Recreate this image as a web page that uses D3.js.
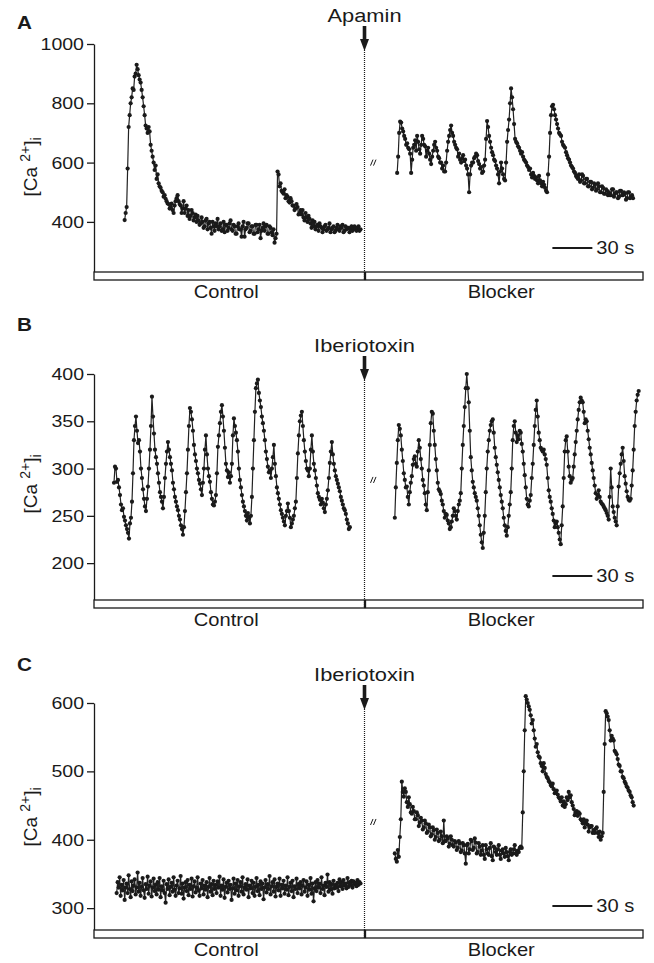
<!DOCTYPE html>
<html>
<head>
<meta charset="utf-8">
<script src="https://cdn.jsdelivr.net/npm/d3@7"></script>
<style>
body { margin: 0; background: #fff; }
svg { display: block; }
text { font-family: "Liberation Sans", Arial, Helvetica, sans-serif; fill: #1a1a1a; }
</style>
</head>
<body>
<script>
// [Ca2+]i traces (nM), one sample every 0.75 s
const aControl = [406, 430, 450, 580, 720, 760, 800, 820, 850, 845,
  890, 900, 930, 915, 895, 880, 870, 845, 820, 790,
  760, 725, 715, 700, 720, 705, 660, 640, 620, 600,
  575, 590, 545, 560, 530, 520, 515, 505, 500, 485,
  490, 478, 470, 462, 460, 445, 450, 462, 440, 430,
  455, 470, 480, 490, 470, 460, 455, 430, 445, 470,
  430, 445, 455, 420, 440, 410, 420, 440, 430, 405,
  415, 425, 400, 420, 405, 390, 395, 415, 400, 380,
  385, 405, 410, 375, 395, 400, 380, 360, 400, 385,
  370, 395, 385, 410, 375, 385, 395, 370, 375, 400,
  365, 390, 390, 370, 380, 395, 405, 375, 370, 390,
  385, 360, 360, 385, 395, 375, 375, 350, 385, 400,
  350, 375, 380, 395, 395, 365, 370, 385, 385, 360,
  360, 390, 390, 365, 375, 390, 345, 370, 380, 395,
  370, 385, 390, 360, 360, 385, 380, 365, 355, 375,
  330, 345, 360, 570, 560, 520, 530, 505, 500, 495,
  510, 480, 490, 485, 470, 465, 480, 470, 455, 455,
  440, 445, 460, 450, 425, 430, 440, 425, 440, 415,
  405, 430, 415, 400, 420, 410, 395, 380, 405, 385,
  400, 375, 385, 390, 370, 395, 385, 380, 365, 375,
  385, 390, 370, 375, 380, 395, 365, 375, 380, 385,
  365, 370, 380, 390, 375, 370, 385, 380, 390, 365,
  370, 385, 375, 380, 380, 365, 375, 385, 370, 380,
  385, 375, 370, 380, 385, 370, 375];
const aBlocker = [565, 620, 700, 738, 735, 715, 705, 690, 680, 660,
  665, 650, 645, 630, 565, 610, 650, 660, 675, 640,
  690, 670, 645, 630, 660, 690, 680, 660, 655, 620,
  640, 650, 630, 610, 595, 620, 640, 660, 670, 650,
  640, 620, 615, 600, 600, 580, 590, 570, 570, 600,
  640, 670, 690, 710, 725, 700, 690, 670, 660, 650,
  645, 620, 630, 610, 600, 615, 625, 605, 610, 590,
  580, 560, 500, 560, 590, 600, 600, 615, 620, 630,
  625, 605, 595, 580, 585, 565, 570, 590, 610, 680,
  740, 720, 690, 670, 650, 635, 625, 610, 605, 590,
  580, 560, 530, 570, 600, 580, 560, 545, 540, 600,
  670, 710, 745, 800, 850, 820, 780, 730, 680, 670,
  665, 655, 650, 640, 630, 635, 620, 610, 605, 600,
  590, 585, 575, 580, 560, 550, 565, 555, 545, 550,
  540, 530, 555, 540, 530, 520, 535, 525, 515, 505,
  500, 560, 620, 700, 760, 790, 795, 780, 760, 745,
  730, 715, 700, 695, 690, 670, 660, 655, 650, 635,
  625, 615, 610, 600, 590, 585, 580, 570, 565, 555,
  550, 545, 560, 535, 540, 560, 555, 530, 530, 545,
  545, 520, 520, 535, 535, 510, 515, 530, 525, 505,
  510, 530, 520, 500, 500, 520, 515, 495, 495, 510,
  505, 490, 500, 490, 490, 510, 510, 485, 495, 500,
  500, 480, 485, 505, 505, 490, 490, 500, 495, 475,
  480, 500, 500, 480, 485, 490, 480];
const bControl = [285, 302, 300, 286, 288, 280, 272, 262, 256, 258,
  249, 245, 240, 236, 232, 226, 242, 248, 265, 295,
  330, 345, 355, 340, 327, 330, 318, 300, 290, 278,
  268, 260, 255, 268, 281, 300, 320, 345, 376, 355,
  337, 320, 312, 305, 295, 285, 275, 270, 265, 258,
  270, 290, 305, 318, 328, 320, 312, 305, 298, 285,
  278, 270, 265, 260, 256, 250, 246, 240, 236, 230,
  238, 255, 275, 295, 320, 345, 364, 360, 352, 340,
  325, 315, 308, 300, 295, 288, 284, 278, 272, 285,
  300, 320, 335, 315, 300, 292, 286, 275, 268, 262,
  261, 265, 272, 295, 323, 335, 348, 360, 367, 355,
  340, 322, 305, 298, 291, 296, 285, 292, 305, 335,
  353, 345, 338, 330, 318, 300, 288, 280, 272, 265,
  260, 255, 250, 245, 253, 248, 242, 250, 270, 300,
  330, 360, 385, 390, 394, 380, 372, 365, 355, 348,
  340, 330, 318, 310, 302, 296, 298, 290, 300, 312,
  325, 305, 292, 280, 274, 268, 262, 256, 252, 248,
  244, 240, 250, 255, 263, 255, 248, 238, 242, 246,
  250, 258, 265, 290, 316, 335, 350, 356, 360, 345,
  330, 318, 308, 300, 298, 292, 300, 320, 335, 318,
  305, 298, 290, 282, 274, 270, 267, 262, 268, 264,
  258, 254, 262, 268, 277, 290, 306, 318, 328, 315,
  305, 298, 292, 288, 284, 280, 276, 270, 266, 262,
  258, 256, 252, 246, 242, 236, 238];
const bBlocker = [248, 280, 306, 330, 346, 342, 335, 320, 308, 295,
  288, 280, 281, 270, 262, 275, 285, 292, 304, 310,
  313, 305, 302, 318, 330, 322, 310, 300, 288, 282,
  274, 262, 256, 275, 298, 325, 348, 360, 358, 340,
  325, 310, 298, 285, 278, 276, 273, 266, 262, 255,
  248, 252, 251, 245, 242, 236, 238, 244, 250, 258,
  255, 250, 246, 255, 262, 266, 274, 300, 325, 345,
  365, 385, 400, 385, 370, 340, 312, 298, 286, 280,
  274, 270, 266, 258, 250, 240, 230, 222, 216, 232,
  250, 275, 300, 318, 330, 340, 346, 350, 352, 338,
  322, 312, 304, 296, 288, 280, 272, 265, 258, 248,
  240, 234, 229, 238, 250, 262, 275, 300, 330, 345,
  350, 338, 328, 335, 331, 340, 338, 326, 318, 305,
  293, 280, 268, 262, 260, 266, 272, 290, 305, 325,
  345, 362, 372, 355, 338, 330, 322, 320, 318, 320,
  315, 310, 304, 290, 277, 270, 265, 258, 252, 245,
  238, 242, 244, 238, 232, 225, 220, 240, 260, 290,
  318, 330, 334, 318, 302, 292, 285, 288, 290, 302,
  315, 328, 340, 352, 362, 370, 375, 372, 370, 360,
  348, 352, 350, 340, 331, 322, 315, 306, 298, 290,
  282, 274, 268, 272, 277, 270, 265, 263, 262, 260,
  258, 256, 253, 250, 246, 270, 300, 280, 260, 254,
  248, 244, 240, 260, 281, 295, 305, 315, 322, 308,
  292, 284, 276, 270, 267, 266, 268, 282, 298, 320,
  345, 360, 372, 378, 382];
const cControl = [322, 338, 330, 345, 318, 334, 326, 341, 312, 330,
  336, 322, 348, 328, 316, 339, 325, 333, 342, 320,
  330, 352, 324, 337, 318, 331, 344, 326, 315, 335,
  328, 346, 321, 333, 339, 317, 330, 343, 325, 334,
  320, 338, 327, 344, 316, 332, 326, 340, 322, 308,
  335, 328, 342, 319, 331, 337, 324, 345, 327, 318,
  333, 340, 322, 329, 347, 321, 336, 314, 330, 338,
  325, 341, 319, 334, 328, 343, 317, 332, 339, 323,
  330, 345, 326, 318, 336, 329, 341, 320, 333, 327,
  338, 316, 331, 344, 324, 335, 319, 340, 328, 334,
  322, 339, 330, 346, 318, 333, 327, 342, 315, 331,
  337, 323, 340, 328, 334, 312, 329, 343, 321, 336,
  326, 341, 318, 332, 338, 324, 345, 320, 330, 335,
  327, 342, 316, 333, 329, 340, 322, 337, 318, 331,
  344, 325, 334, 319, 339, 328, 336, 313, 330, 341,
  323, 335, 328, 347, 320, 332, 338, 324, 342, 317,
  331, 336, 326, 343, 318, 334, 329, 340, 321, 333,
  327, 345, 319, 331, 337, 325, 340, 316, 332, 328,
  343, 322, 335, 329, 338, 320, 333, 341, 324, 330,
  339, 318, 334, 327, 344, 321, 336, 310, 329, 338,
  325, 341, 330, 336, 322, 345, 328, 333, 319, 337,
  331, 349, 324, 338, 327, 335, 321, 340, 329, 334,
  330, 337, 325, 342, 332, 338, 328, 341, 333, 336,
  329, 344, 331, 338, 334, 340, 330, 339, 335, 337,
  332, 341, 334, 338, 336];
const cBlocker = [380, 372, 368, 385, 375, 404, 430, 485, 470, 463,
  475, 470, 455, 448, 462, 452, 440, 438, 448, 442,
  430, 430, 440, 436, 420, 425, 432, 428, 415, 418,
  428, 424, 410, 412, 422, 418, 405, 408, 418, 414,
  400, 404, 415, 410, 398, 400, 412, 405, 395, 428,
  398, 398, 405, 402, 390, 394, 405, 400, 392, 390,
  398, 396, 385, 388, 398, 395, 382, 384, 395, 392,
  380, 365, 392, 394, 380, 386, 400, 398, 385, 388,
  402, 396, 380, 382, 395, 390, 378, 384, 392, 378,
  372, 392, 386, 380, 378, 388, 395, 376, 370, 390,
  388, 382, 378, 386, 392, 378, 372, 384, 386, 380,
  375, 388, 382, 376, 370, 382, 386, 378, 380, 386,
  392, 380, 378, 384, 382, 388, 390, 388, 440, 500,
  560, 610, 605, 600, 595, 590, 582, 570, 575, 560,
  548, 536, 540, 528, 522, 520, 512, 508, 500, 512,
  505, 496, 492, 490, 486, 484, 480, 478, 482, 474,
  468, 470, 472, 466, 462, 460, 456, 462, 450, 456,
  448, 452, 462, 458, 470, 462, 465, 455, 450, 445,
  436, 440, 442, 435, 440, 438, 430, 428, 424, 430,
  418, 425, 428, 422, 412, 418, 420, 420, 410, 414,
  410, 416, 418, 410, 404, 412, 400, 405, 410, 470,
  540, 588, 585, 580, 575, 560, 545, 552, 548, 545,
  530, 528, 525, 518, 510, 508, 500, 500, 492, 490,
  485, 482, 478, 476, 472, 470, 465, 462, 455, 450];

// start time (s) of each segment [control, blocker]
const aStarts = [23, 227.5];
const bStarts = [15, 225.75];
const cStarts = [17, 225.75];

const aTicks = [400, 600, 800, 1000];
const bTicks = [200, 250, 300, 350, 400];
const cTicks = [300, 400, 500, 600];

const drugs = ["Apamin", "Iberiotoxin", "Iberiotoxin"];
const letters = ["A", "B", "C"];
const conditions = ["Control", "Blocker"];

const STEP = 0.75;     // s between samples
const DRUG_T = 203;    // s, time of drug application
const BAR_T = 344;     // s, start of 30 s scale bar
const SX = 1.15;       // horizontal stretch of lettering

const svg = d3.select("body").append("svg")
  .attr("width", 654)
  .attr("height", 963);

const x = d3.scaleLinear().domain([0, 412]).range([94, 643]);

function label(g, px, py, s, size, anchor, weight) {
  return g.append("text")
    .attr("transform", `translate(${px},${py}) scale(${SX},1)`)
    .attr("text-anchor", anchor || "start")
    .attr("font-size", size)
    .attr("font-weight", weight || null)
    .text(s);
}

const panels = [
  {domain: [231, 1000], range: [272, 44], ticks: aTicks, data: [aControl, aBlocker], starts: aStarts,
   letterY: 29, labelY: 167, breakV: 600},
  {domain: [161, 400], range: [600, 374], ticks: bTicks, data: [bControl, bBlocker], starts: bStarts,
   letterY: 331, labelY: 484, breakV: 288},
  {domain: [268, 600], range: [930, 703], ticks: cTicks, data: [cControl, cBlocker], starts: cStarts,
   letterY: 671, labelY: 817, breakV: 426}
];

panels.forEach((p, k) => {
  const g = svg.append("g");
  const y = d3.scaleLinear().domain(p.domain).range(p.range);
  const yBot = p.range[0], yTop = p.range[1];
  const xd = x(DRUG_T);

  // panel letter
  label(g, 17, p.letterY, letters[k], 18, "start", "bold");

  // y axis
  const ax = g.append("g")
    .attr("transform", `translate(${x(0)},0)`)
    .call(d3.axisLeft(y).tickValues(p.ticks).tickSize(7).tickSizeOuter(0).tickPadding(3).tickFormat(d3.format("d")));
  ax.select(".domain").attr("stroke", "#1a1a1a").attr("stroke-width", 1.3);
  ax.selectAll(".tick line").attr("stroke", "#1a1a1a").attr("stroke-width", 1.3);
  ax.selectAll(".tick text").remove();
  p.ticks.forEach(t => label(g, x(0) - 10, y(t) + 6, String(t), 17, "end"));

  // y axis title
  const yl = g.append("text")
    .attr("transform", `translate(37,${p.labelY}) rotate(-90)`)
    .attr("text-anchor", "middle")
    .attr("font-size", 19);
  yl.append("tspan").text("[Ca ");
  yl.append("tspan").attr("font-size", 14).attr("dy", -7).text("2+");
  yl.append("tspan").attr("dy", 7).text("]");
  yl.append("tspan").attr("font-size", 14).attr("dy", 4).text("i");

  // condition bars
  const bars = [[0, DRUG_T], [DRUG_T + 0.75, 412]];
  bars.forEach(([t1, t2], j) => {
    g.append("rect")
      .attr("x", x(t1)).attr("y", yBot)
      .attr("width", x(t2) - x(t1)).attr("height", 8)
      .attr("fill", "#fff").attr("stroke", "#1a1a1a").attr("stroke-width", 1.3);
    label(g, (x(t1) + x(t2)) / 2 - 3, yBot + 26, conditions[j], 17.5, "middle");
  });

  // drug application: dotted line, arrow, name
  g.append("line")
    .attr("x1", xd).attr("x2", xd)
    .attr("y1", yTop + 6).attr("y2", yBot + 8)
    .attr("stroke", "#1a1a1a").attr("stroke-width", 1.2)
    .attr("stroke-dasharray", "1,1");
  g.append("rect")
    .attr("x", xd - 1.8).attr("y", yTop - 18)
    .attr("width", 3.6).attr("height", 14)
    .attr("fill", "#1a1a1a");
  g.append("path")
    .attr("d", `M${xd - 4.5},${yTop - 5}L${xd + 4.5},${yTop - 5}L${xd},${yTop + 7}Z`)
    .attr("fill", "#1a1a1a");
  label(g, xd, yTop - 22, drugs[k], 19, "middle");

  // time-break mark
  const yb = y(p.breakV);
  [0, 3].forEach(dx => {
    g.append("line")
      .attr("x1", xd + 6 + dx).attr("y1", yb + 3)
      .attr("x2", xd + 8.5 + dx).attr("y2", yb - 3)
      .attr("stroke", "#1a1a1a").attr("stroke-width", 1);
  });

  // traces
  p.data.forEach((vals, j) => {
    const pts = vals.map((v, i) => [p.starts[j] + i * STEP, v]);
    g.append("path")
      .datum(pts)
      .attr("fill", "none")
      .attr("stroke", "#222")
      .attr("stroke-width", 1.2)
      .attr("d", d3.line().x(d => x(d[0])).y(d => y(d[1])));
    g.append("g")
      .selectAll("circle")
      .data(pts)
      .join("circle")
      .attr("cx", d => x(d[0]))
      .attr("cy", d => y(d[1]))
      .attr("r", 2.1)
      .attr("fill", "#1a1a1a");
  });

  // 30 s scale bar
  g.append("line")
    .attr("x1", x(BAR_T)).attr("x2", x(BAR_T + 30))
    .attr("y1", yBot - 24).attr("y2", yBot - 24)
    .attr("stroke", "#1a1a1a").attr("stroke-width", 2);
  label(g, x(BAR_T + 30) + 4, yBot - 18, "30 s", 17.5, "start");
});
</script>
</body>
</html>
